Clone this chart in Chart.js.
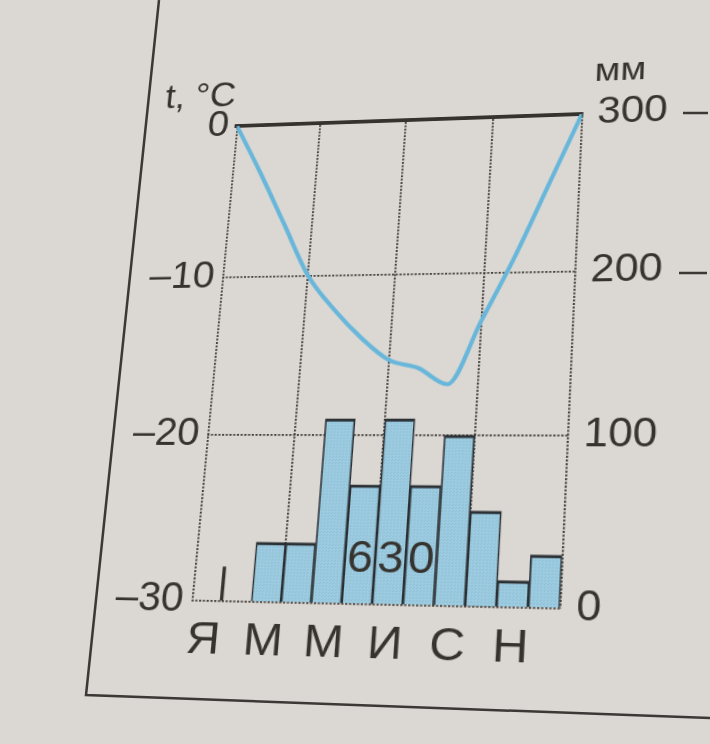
<!DOCTYPE html>
<html>
<head>
<meta charset="utf-8">
<script src="https://cdn.jsdelivr.net/npm/chart.js@4.4.1/dist/chart.umd.min.js"></script>
<style>
  html, body { margin: 0; padding: 0; background: #dbd8d3; }
  body { width: 710px; height: 744px; position: relative; overflow: hidden; }
  #frame { position: absolute; left: 0; top: 0; }
  #wrap { position: absolute; left: 0; top: 0; width: 710px; height: 744px; transform-origin: 0 0; }
</style>
</head>
<body>
<svg id="frame" width="710" height="744">
  <polyline points="159,0 86,695 710,718" fill="none" stroke="#3b3835" stroke-width="2.5"/>
  <line x1="683" y1="113" x2="708" y2="113" stroke="#3b3835" stroke-width="2.5"/>
  <line x1="679" y1="273" x2="707" y2="273" stroke="#3b3835" stroke-width="2.5"/>
</svg>
<div id="wrap"><canvas id="c" width="710" height="744"></canvas></div>
<script>
// months (only every other one is printed under the axis)
const months = ['Я', 'Ф', 'М', 'А', 'М', 'И', 'И', 'А', 'С', 'О', 'Н', 'Д'];
// precipitation, mm
const precip = [0, 0, 35, 35, 110, 70, 110, 70, 100, 55, 15, 30];
// temperature curve, read at month boundaries (0 = start of Jan, 12 = end of Dec)
const tempMonth = [0, 1, 2, 3, 4, 5, 6, 7, 8, 9, 10, 11, 12];
const tempValues = [0, -3.2, -6.6, -10, -12.2, -14.0, -15.4, -15.9, -16.9, -13, -9, -4.5, 0];
// the little stroke at the end of January
const traceMonth = [1];
const traceValue = [20];
// yearly total, printed inside the summer bars
const total = '630';
const totalFirstBar = 5;
const totalLevel = 26;

const ink = '#36332f';
const gridInk = '#45403b';
const face = '"Liberation Sans", Arial, sans-serif';

// where the plot corners sit in the photo: TL, TR, BR, BL
const corners = [[237, 126], [582, 114], [560, 608], [192, 600]];

function barPattern() {
  const c = document.createElement('canvas');
  c.width = 3; c.height = 3;
  const g = c.getContext('2d');
  g.fillStyle = '#9dcce1';
  g.fillRect(0, 0, 3, 3);
  g.fillStyle = '#8cbdd4';
  g.fillRect(0, 0, 1, 1);
  g.fillRect(2, 1, 1, 1);
  return g.createPattern(c, 'repeat');
}

const extraText = {
  id: 'extraText',
  afterDatasetsDraw(chart) {
    const { ctx, chartArea } = chart;
    ctx.save();
    ctx.fillStyle = ink;
    ctx.font = '36px ' + face;
    ctx.textAlign = 'right';
    ctx.textBaseline = 'alphabetic';
    ctx.fillText('t, °C', chartArea.left - 4, chartArea.top - 22);
    ctx.textAlign = 'left';
    ctx.font = '34px ' + face;
    ctx.fillText('мм', chartArea.right + 10, chartArea.top - 34);

    const meta = chart.getDatasetMeta(0);
    const y = chart.scales.y2.getPixelForValue(totalLevel);
    ctx.font = '42px ' + face;
    ctx.textAlign = 'center';
    ctx.textBaseline = 'middle';
    [...total].forEach((ch, i) => ctx.fillText(ch, meta.data[totalFirstBar + i].x, y));
    ctx.restore();
  }
};

const chart = new Chart(document.getElementById('c'), {
  type: 'bar',
  data: {
    labels: months,
    datasets: [
      {
        label: 'Осадки',
        data: precip,
        xAxisID: 'x',
        yAxisID: 'y2',
        backgroundColor: barPattern(),
        borderColor: '#2b3034',
        borderWidth: { top: 3, left: 1.6, right: 1.6, bottom: 0 },
        barPercentage: 1,
        categoryPercentage: 1,
        grouped: false,
        order: 2
      },
      {
        label: 'след',
        data: traceMonth.map((m, i) => ({ x: m, y: traceValue[i] })),
        xAxisID: 'xLine',
        yAxisID: 'y2',
        backgroundColor: ink,
        barThickness: 2.5,
        grouped: false,
        order: 1
      },
      {
        type: 'line',
        label: 'Температура',
        data: tempMonth.map((m, i) => ({ x: m, y: tempValues[i] })),
        xAxisID: 'xLine',
        yAxisID: 'y',
        borderColor: '#68b6da',
        borderWidth: 4,
        pointRadius: 0,
        cubicInterpolationMode: 'monotone',
        order: 0
      }
    ]
  },
  options: {
    responsive: false,
    animation: false,
    layout: { padding: { left: 150, right: 70, top: 120, bottom: 78 } },
    plugins: { legend: { display: false }, tooltip: { enabled: false } },
    scales: {
      x: {
        position: 'bottom',
        grid: { display: false },
        border: { display: false },
        ticks: {
          autoSkip: false,
          maxRotation: 0,
          padding: 4,
          color: ink,
          font: { family: face, size: 43 },
          callback: (v, i) => (i % 2 === 0 ? months[i] : '')
        }
      },
      xLine: {
        type: 'linear',
        position: 'top',
        offset: false,
        min: 0,
        max: 12,
        ticks: { display: false, stepSize: 3 },
        grid: { color: gridInk, lineWidth: 1.8, drawTicks: false, offset: false },
        border: { display: true, width: 4, color: ink, dash: [2, 1.5] }
      },
      y: {
        position: 'left',
        min: -30,
        max: 0,
        ticks: {
          stepSize: 10,
          padding: 8,
          color: ink,
          font: { family: face, size: 38 },
          callback: v => (v < 0 ? '–' + Math.abs(v) : String(v))
        },
        grid: { color: gridInk, lineWidth: 1.8, drawTicks: false },
        border: { display: false, dash: [2, 1.5] }
      },
      y2: {
        position: 'right',
        min: 0,
        max: 300,
        ticks: {
          stepSize: 100,
          padding: 6,
          color: ink,
          font: { family: face, size: 38 }
        },
        grid: { display: false },
        border: { display: false }
      }
    }
  },
  plugins: [extraText]
});

// lay the flat chart onto the photographed (tilted) page
function fitToPhoto() {
  const a = chart.chartArea;
  const L = a.left, T = a.top, W = a.right - a.left, H = a.bottom - a.top;
  const [[x0, y0], [x1, y1], [x2, y2], [x3, y3]] = corners;
  const sx = x0 - x1 + x2 - x3, sy = y0 - y1 + y2 - y3;
  const dx1 = x1 - x2, dx2 = x3 - x2, dy1 = y1 - y2, dy2 = y3 - y2;
  const den = dx1 * dy2 - dx2 * dy1;
  const g = (sx * dy2 - dx2 * sy) / den;
  const h = (dx1 * sy - sx * dy1) / den;
  const A = x1 - x0 + g * x1, B = x3 - x0 + h * x3, C = x0;
  const D = y1 - y0 + g * y1, E = y3 - y0 + h * y3, F = y0;
  const m = [
    A / W, D / W, 0, g / W,
    B / H, E / H, 0, h / H,
    0, 0, 1, 0,
    C - A * L / W - B * T / H, F - D * L / W - E * T / H, 0, 1 - g * L / W - h * T / H
  ];
  document.getElementById('wrap').style.transform = 'matrix3d(' + m.join(',') + ')';
}
fitToPhoto();
</script>
</body>
</html>
